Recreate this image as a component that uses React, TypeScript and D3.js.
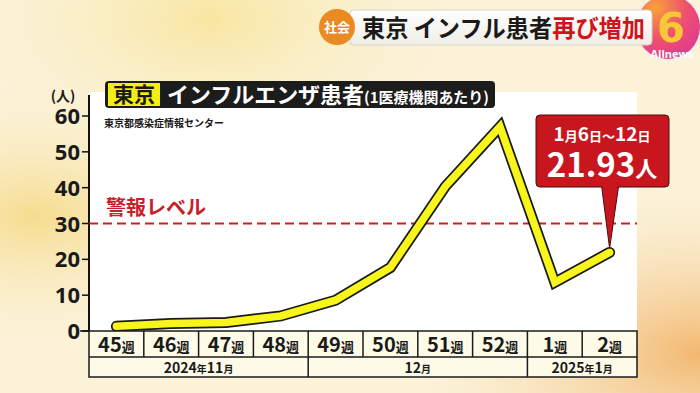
import React from "react";
import * as d3 from "d3";

const weeks = ["45", "46", "47", "48", "49", "50", "51", "52", "1", "2"];
const values = [1.3, 2.1, 2.4, 4.2, 8.6, 17.7, 40.3, 57.0, 13.6, 21.93];
const yTicks = [0, 10, 20, 30, 40, 50, 60];
const monthLabels = ["2024年11月", "12月", "2025年1月"];
const monthSpans = [4, 4, 2];
const alertLevel = 30;
const calloutDate = "1月6日〜12日";
const calloutValue = "21.93";

const JP = "'Noto Sans CJK JP', 'Noto Sans', sans-serif";

function splitDigits(s: string, big: number, small: number) {
  const parts = s.match(/[0-9.]+|[^0-9.]+/g) || [];
  return parts.map((p, i) => (
    <tspan key={i} fontSize={/[0-9]/.test(p) ? big : small}>{p}</tspan>
  ));
}

export default function App() {
  const left = 89, right = 637, y0 = 331;
  const x = d3.scaleBand<string>().domain(weeks).range([left, right]);
  const y = d3.scaleLinear().domain([0, 60]).range([y0, 116]);
  const cx = (w: string) => (x(w) as number) + x.bandwidth() / 2;
  const line = d3.line<number>().x((_, i) => cx(weeks[i])).y((d) => y(d));
  const path = line(values) || "";
  const lastX = cx(weeks[weeks.length - 1]);
  const lastY = y(values[values.length - 1]);

  let acc = 0;
  const monthCells = monthLabels.map((m, i) => {
    const x0 = x(weeks[acc]) as number;
    acc += monthSpans[i];
    const x1 = acc >= weeks.length ? right : (x(weeks[acc]) as number);
    return { m, x0, x1 };
  });

  return (
    <svg width={700} height={393} style={{ position: "absolute", left: 0, top: 0 }} fontFamily={JP}>
      <defs>
        <radialGradient id="bgL" cx="0.05" cy="0.55" r="0.35">
          <stop offset="0" stopColor="#f6dc8e" />
          <stop offset="1" stopColor="#fbf1d6" stopOpacity="0" />
        </radialGradient>
        <radialGradient id="bgR" cx="1" cy="0.9" r="0.4">
          <stop offset="0" stopColor="#f2b870" />
          <stop offset="1" stopColor="#f7dcb0" stopOpacity="0" />
        </radialGradient>
        <radialGradient id="bgT" cx="0.3" cy="0.05" r="0.4">
          <stop offset="0" stopColor="#f8e6a0" />
          <stop offset="1" stopColor="#fbf3da" stopOpacity="0" />
        </radialGradient>
        <radialGradient id="logo" cx="0.3" cy="0.2" r="0.9">
          <stop offset="0" stopColor="#f7a23a" />
          <stop offset="0.55" stopColor="#ee4f6e" />
          <stop offset="1" stopColor="#df3a94" />
        </radialGradient>
        <linearGradient id="sha" x1="0" x2="0" y1="0" y2="1">
          <stop offset="0" stopColor="#ffffff" />
          <stop offset="1" stopColor="#efede6" />
        </linearGradient>
      </defs>
      {/* background */}
      <rect x={0} y={0} width={700} height={393} fill="#fbf2d8" />
      <rect x={0} y={0} width={700} height={393} fill="url(#bgT)" />
      <rect x={0} y={0} width={700} height={393} fill="url(#bgL)" />
      <rect x={0} y={0} width={700} height={393} fill="url(#bgR)" />

      {/* logo (behind banner) */}
      <circle cx={668} cy={27} r={35} fill="#f7efe6" />
      <circle cx={668} cy={27} r={32} fill="url(#logo)" />
      <text x={671} y={42} textAnchor="middle" fontSize={40} fontWeight={900} fill="#f9c838" fontFamily="'DejaVu Sans', sans-serif">6</text>
      <text x={672} y={58} textAnchor="middle" fontSize={11} fontWeight={700} fill="#fff" fontFamily="'Open Sans', sans-serif">Allnews</text>

      {/* top banner */}
      <rect x={350} y={10} width={302} height={35} rx={4} fill="url(#sha)" stroke="#d8d4cc" />
      <circle cx={337} cy={27} r={18} fill="#ea8a22" />
      <text x={337} y={32} textAnchor="middle" fill="#fff" fontSize={13} fontWeight={700}>社会</text>
      <text x={362} y={37} fontSize={24} fontWeight={700} fill="#1a1a1a" textLength={283} lengthAdjust="spacingAndGlyphs">東京 インフル患者<tspan fill="#d0141e">再び増加</tspan></text>

      {/* plot panel */}
      <rect x={left} y={92} width={right - left} height={y0 - 92} fill="#ffffff" />

      {/* y axis */}
      <line x1={left} x2={left} y1={95} y2={y0} stroke="#111" strokeWidth={2} />
      {yTicks.map((t) => (
        <g key={t}>
          <line x1={left - 7} x2={left} y1={y(t)} y2={y(t)} stroke="#111" strokeWidth={1.5} />
          <text x={left - 9} y={y(t) + 8} textAnchor="end" fontSize={22} fontWeight={700} fill="#1a1a1a" fontFamily="'Noto Sans', sans-serif">{t}</text>
        </g>
      ))}
      <text x={63} y={101} textAnchor="middle" fontSize={14} fontWeight={700} fill="#1a1a1a">(人)</text>

      {/* alert level */}
      <line x1={left} x2={right} y1={y(alertLevel)} y2={y(alertLevel)} stroke="#c8202a" strokeWidth={2} strokeDasharray="9,5" />
      <text x={106} y={y(alertLevel) - 9} fontSize={20} fontWeight={700} fill="#c8202a">警報レベル</text>

      {/* title */}
      <rect x={105} y={81} width={390} height={27} rx={4} fill="#1c1c1c" />
      <rect x={108} y={83} width={52} height={23} fill="#f5ee12" />
      <text x={134} y={102} textAnchor="middle" fontSize={21} fontWeight={700} fill="#1a1a1a">東京</text>
      <text x={167} y={103} fontSize={22} fontWeight={700} fill="#ffffff" textLength={322} lengthAdjust="spacingAndGlyphs">インフルエンザ患者<tspan fontSize={15}>(1医療機関あたり)</tspan></text>
      <text x={104} y={127} fontSize={10} fontWeight={700} fill="#1a1a1a">東京都感染症情報センター</text>

      {/* line */}
      <path d={path} fill="none" stroke="#1a1a1a" strokeWidth={11} strokeLinejoin="miter" strokeLinecap="round" />
      <path d={path} fill="none" stroke="#f7f51a" strokeWidth={7.5} strokeLinejoin="miter" strokeLinecap="round" />

      {/* callout */}
      <path d={`M${lastX - 8},186 L${lastX},${lastY - 4} L${lastX + 9},186 Z`} fill="#c8161e" stroke="#4a0c0c" strokeWidth={1} />
      <rect x={536} y={115} width={133} height={72} rx={4} fill="#c8161e" stroke="#4a0c0c" strokeWidth={1} />
      <rect x={lastX - 7} y={184} width={15} height={4} fill="#c8161e" />
      <text x={602} y={141} textAnchor="middle" fill="#fff" fontWeight={700}>{splitDigits(calloutDate, 19, 13)}</text>
      <text x={602} y={177} textAnchor="middle" fill="#fff" fontWeight={700}>
        <tspan fontSize={33}>{calloutValue}</tspan><tspan fontSize={22}>人</tspan>
      </text>

      {/* x table */}
      <rect x={left} y={y0} width={right - left} height={46} fill="#fdfbe7" stroke="#1a1a1a" strokeWidth={1.5} />
      <line x1={left} x2={right} y1={357} y2={357} stroke="#1a1a1a" strokeWidth={1.5} />
      <line x1={80} x2={left} y1={y0} y2={y0} stroke="#111" strokeWidth={1.5} />
      {weeks.map((w, i) => (
        <g key={w}>
          {i > 0 && <line x1={x(w)} x2={x(w)} y1={y0} y2={357} stroke="#1a1a1a" strokeWidth={1.5} />}
          <text x={cx(w)} y={352} textAnchor="middle" fontWeight={700} fill="#1a1a1a">
            <tspan fontSize={20}>{w}</tspan><tspan fontSize={13}>週</tspan>
          </text>
        </g>
      ))}
      {monthCells.map((c, i) => (
        <g key={c.m}>
          {i > 0 && <line x1={c.x0} x2={c.x0} y1={357} y2={377} stroke="#1a1a1a" strokeWidth={1.5} />}
          <text x={(c.x0 + c.x1) / 2} y={373} textAnchor="middle" fontWeight={700} fill="#1a1a1a">{splitDigits(c.m, 14, 10)}</text>
        </g>
      ))}
    </svg>
  );
}
